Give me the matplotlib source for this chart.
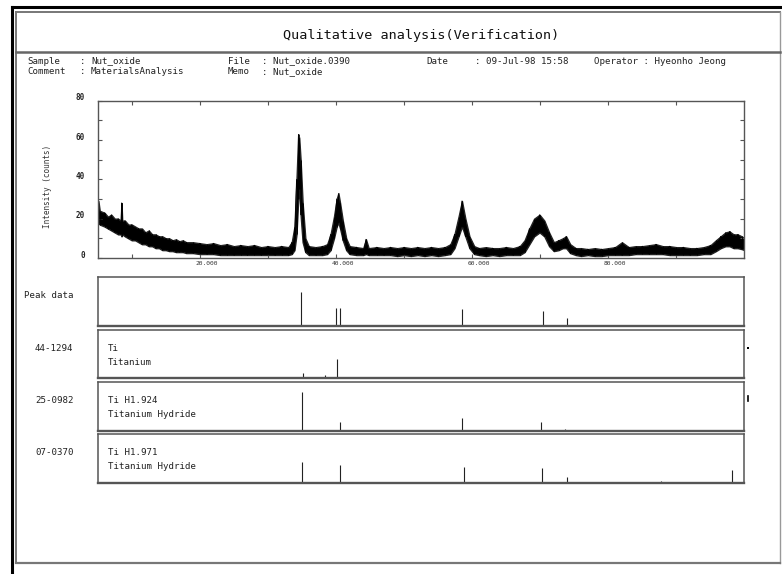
import matplotlib
matplotlib.use("Agg")
import matplotlib.pyplot as plt
from matplotlib.patches import Rectangle
from matplotlib.lines import Line2D
import matplotlib.transforms as mtransforms

W, H = 782, 574
MONO = "DejaVu Sans Mono"

# ---------------- data ----------------
title = "Qualitative analysis(Verification)"
header_rows = [
    [("Sample", 27), (":", 80), ("Nut_oxide", 91), ("File", 228), (": Nut_oxide.0390", 262),
     ("Date", 426), (": 09-Jul-98 15:58", 475), ("Operator : Hyeonho Jeong", 594)],
    [("Comment", 27), (":", 80), ("MaterialsAnalysis", 91), ("Memo", 228), (": Nut_oxide", 262)],
]

two_theta = [5.0, 5.1, 5.3, 6.0, 6.5, 7.0, 7.5, 8.0, 8.4, 8.5,
             8.6, 9.0, 9.5, 10.0, 10.5, 11.0, 11.5, 12.0, 12.5, 13.0,
             13.5, 14.0, 14.5, 15.0, 15.5, 16.0, 16.5, 17.0, 17.5, 18.0,
             19, 20, 21, 22, 23, 24, 25, 26, 27, 28,
             29, 30, 31, 32, 33, 33.5, 33.9, 34.2, 34.45, 34.6,
             34.8, 35.1, 35.5, 36, 37, 38, 38.7, 39.2, 39.7, 40.1,
             40.35, 40.6, 41.0, 41.5, 42, 43, 44, 44.4, 44.8, 46,
             47, 48, 49, 50, 51, 52, 53, 54, 55, 56,
             56.8, 57.4, 58.0, 58.5, 59.0, 59.6, 60.3, 61, 62, 63,
             64, 65, 66, 67, 67.7, 68.4, 69.1, 69.9, 70.6, 71.3,
             72.0, 72.7, 73.3, 73.8, 74.4, 75.2, 76, 77, 78, 79,
             80, 81, 82, 83, 84, 85, 86, 87, 88, 89,
             90, 91, 92, 93, 94, 95, 95.8, 96.5, 97.2, 97.8,
             98.4, 99.0, 99.6, 100]
counts_low = [17, 18, 17, 16, 15, 14, 13, 12, 12, 11,
              12, 11, 10, 9, 9, 8, 7, 7, 6, 6,
              5, 5, 4, 4, 3.5, 3.5, 3, 3, 3, 2.5,
              2.5, 2, 2, 2, 1.5, 1.5, 1.5, 1.5, 1.5, 1.5,
              1.5, 1.5, 1.5, 1.5, 1.5, 2, 4, 12, 30, 35,
              22, 8, 3, 1.5, 1.5, 1.5, 2, 4, 10, 16,
              18, 15, 9, 4, 2, 1.5, 1.5, 2, 1.5, 1.5,
              1.5, 1.5, 1, 1.5, 1, 1.5, 1, 1.5, 1, 1.5,
              2, 5, 11, 16, 11, 5, 2, 1.5, 1, 1.5,
              1, 1.5, 1.5, 1.5, 3, 7, 11, 13, 11, 6,
              3.5, 4, 5, 5, 2.5, 1.5, 1, 1.5, 1, 1,
              1.5, 1.5, 1.5, 1.5, 2, 2, 2, 2, 2, 1.5,
              1.5, 1.5, 1.5, 1.5, 2, 2, 3.5, 5, 6, 6,
              5, 5, 4.5, 4]
counts_high = [24, 29, 24, 23, 21, 22, 20, 20, 19, 28,
               19, 19, 17, 17, 16, 15, 15, 13, 14, 12,
               12, 11, 11, 10, 10, 9, 9.5, 8.5, 9, 8,
               8, 7.5, 7, 7.5, 6.5, 7, 6, 6.5, 6, 6.5,
               5.5, 6, 5.5, 6, 5.5, 8, 16, 40, 63, 61,
               50, 28, 10, 6, 5.5, 6, 7, 12, 21, 30,
               33, 28, 19, 10, 6, 5.5, 5, 9.5, 5, 5.5,
               5, 5.5, 5, 5.5, 5, 5.5, 5, 5.5, 5, 5.5,
               7, 12, 21, 29, 20, 11, 6, 5, 5.5, 5,
               5, 5.5, 5, 6, 9, 15, 20, 22, 19, 13,
               8, 9, 10, 11, 7, 5, 5, 4.5, 5, 4.5,
               5, 5.5, 8, 5.5, 6, 6, 6.5, 7, 6, 6,
               5.5, 5.5, 5, 5, 5.5, 6.5, 9, 11, 13, 13.5,
               12, 12, 11, 10]

x_ticks = [20, 40, 60, 80]
x_tick_labels = ["20.000", "40.000", "60.000", "80.000"]
y_ticks = [0, 20, 40, 60, 80]
y_tick_labels = ["0", "20", "40", "60", "80"]

panel_ids = ["Peak data", "44-1294", "25-0982", "07-0370"]
panel_formula = ["", "Ti", "Ti H1.924", "Ti H1.971"]
panel_name = ["", "Titanium", "Titanium Hydride", "Titanium Hydride"]
peak_pos = [34.87, 40.0, 40.6, 58.57, 70.38, 73.9]
peak_int = [69, 37, 37, 35, 29, 15]
ti_pos = [35.1, 38.4, 40.1]
ti_int = [10, 6, 39]
tih1924_pos = [35.06, 40.6, 58.57, 70.1, 73.7]
tih1924_int = [80, 19, 26, 19, 4]
tih1971_pos = [35.06, 40.6, 58.8, 70.3, 73.9, 87.77, 98.15]
tih1971_int = [44, 37, 33, 31, 13, 4, 27]
stick_pos = [peak_pos, ti_pos, tih1924_pos, tih1971_pos]
stick_int = [peak_int, ti_int, tih1924_int, tih1971_int]

# ---------------- layout helpers ----------------
fig = plt.figure(figsize=(W / 100, H / 100), dpi=100)
fig.patch.set_facecolor("white")


def fx(px):
    return px / W


def fy(py):
    return 1 - py / H


def rect(l, t, r, b):
    return [fx(l), fy(b), (r - l) / W, (b - t) / H]


def fline(x0, y0, x1, y1, **kw):
    fig.add_artist(Line2D([fx(x0), fx(x1)], [fy(y0), fy(y1)], transform=fig.transFigure, **kw))


# frames
fline(11.5, 7, 11.5, 574, color="black", lw=2.2)
fline(11.5, 7, 782, 7, color="black", lw=2.2)
fline(16, 12, 16, 563, color="#777777", lw=1.4)
fline(16, 12, 780, 12, color="#777777", lw=1.4)
fline(780, 12, 780, 563, color="#999999", lw=1.0)
fline(16, 563, 780, 563, color="#777777", lw=1.6)
fline(16, 51.5, 780, 51.5, color="#666666", lw=1.8)

fig.text(fx(421.5), fy(35), title, ha="center", va="center", fontsize=9.7, family=MONO, color="#111111")
for row, yy in zip(header_rows, [61, 71.5]):
    for txt, xx in row:
        fig.text(fx(xx), fy(yy), txt, ha="left", va="center", fontsize=6.6, family=MONO, color="#222222")

LX0, LX1 = 97.7, 744.5
XLIM = (5, 100)

# ---------------- main pattern ----------------
ax = fig.add_axes(rect(LX0, 100.7, LX1, 258))
ax.fill_between(two_theta, counts_low, counts_high, color="black", lw=1.0, edgecolor="#222222")
ax.vlines(two_theta, counts_low, counts_high, color="black", lw=0.6)
zig = [lo if k % 2 == 0 else hi for k, (lo, hi) in enumerate(zip(counts_low, counts_high))]
ax.plot(two_theta, zig, color="black", lw=0.6)
ax.set_xlim(*XLIM)
ax.set_ylim(0, 80)
ax.set_xticks(x_ticks)
ax.set_xticklabels(x_tick_labels)
ax.set_xticks([10, 30, 50, 70, 90], minor=True)
ax.set_yticks(y_ticks)
ax.set_yticklabels(y_tick_labels)
ax.set_yticks([10, 30, 50, 70], minor=True)
ax.tick_params(which="both", direction="in", length=3, width=0.8, color="#555555",
               top=True, right=True)
ax.tick_params(axis="x", labelsize=4.5, pad=2.5, labelcolor="#333333")
ax.tick_params(axis="y", labelsize=5.5, pad=9, labelcolor="#222222")
for lab in ax.get_xticklabels():
    lab.set_family(MONO)
    lab.set_transform(lab.get_transform() + mtransforms.ScaledTranslation(0.07, 0, fig.dpi_scale_trans))
for lab in ax.get_yticklabels():
    lab.set_family(MONO)
    lab.set_fontweight("bold")
    lab.set_transform(lab.get_transform() + mtransforms.ScaledTranslation(0, 0.04, fig.dpi_scale_trans))
ax.set_ylabel("Intensity (counts)", fontsize=5.5, family=MONO, color="#333333")
ax.yaxis.set_label_coords((51.7 - LX0) / (LX1 - LX0), (258 - 186.7) / (258 - 100.7))
for s in ax.spines.values():
    s.set_color("#555555")
    s.set_linewidth(1.0)

# ---------------- reference panels ----------------
panel_rows = [(276.7, 325.7), (330, 378.3), (382.3, 431), (434.3, 483.3)]
for i, (t, b) in enumerate(panel_rows):
    pax = fig.add_axes(rect(LX0, t, LX1, b))
    pax.vlines(stick_pos[i], 0, stick_int[i], color="#222222", lw=0.8)
    pax.set_xlim(*XLIM)
    pax.set_ylim(0, 100)
    pax.set_xticks([])
    pax.set_yticks([])
    for name, s in pax.spines.items():
        s.set_color("#555555")
        s.set_linewidth(1.7 if name == "bottom" else 1.1)
    fig.text(fx(73.5), fy(t + (b - t) * 0.38), panel_ids[i], ha="right", va="center",
             fontsize=6.6, family=MONO, color="#222222")
    if panel_formula[i]:
        pax.text((108.3 - LX0) / (LX1 - LX0), 1 - 18.3 / (b - t), panel_formula[i],
                 transform=pax.transAxes, ha="left", va="center", fontsize=6.6, family=MONO, color="#222222")
        pax.text((108.3 - LX0) / (LX1 - LX0), 1 - 32.2 / (b - t), panel_name[i],
                 transform=pax.transAxes, ha="left", va="center", fontsize=6.6, family=MONO, color="#222222")

fig.add_artist(Rectangle((fx(747.3), fy(349)), 2 / W, 2.5 / H, transform=fig.transFigure,
                         color="black", lw=0))
fline(748.3, 396, 748.3, 401, color="black", lw=1.2)

fig.savefig("out.png", dpi=100, facecolor="white")
